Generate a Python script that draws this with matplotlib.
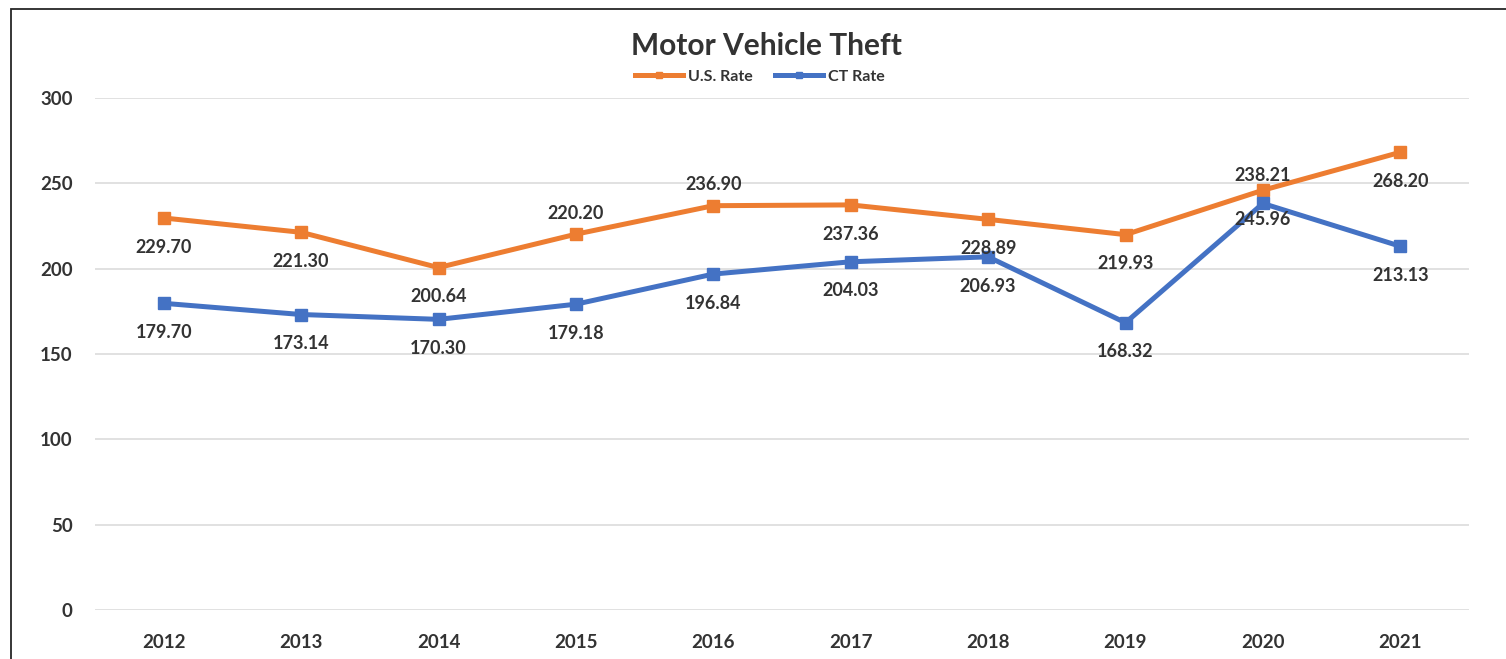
import numpy as np
import matplotlib
matplotlib.use('Agg')
import matplotlib.pyplot as plt
from matplotlib.lines import Line2D
from matplotlib.patches import Rectangle

plt.rcParams['font.family'] = ['Lato', 'DejaVu Sans']
plt.rcParams['font.weight'] = 'bold'

# --- Data ---
years = ['2012', '2013', '2014', '2015', '2016', '2017', '2018', '2019', '2020', '2021']
us_rate = [229.70, 221.30, 200.64, 220.20, 236.90, 237.36, 228.89, 219.93, 245.96, 268.20]
ct_rate = [179.70, 173.14, 170.30, 179.18, 196.84, 204.03, 206.93, 168.32, 238.21, 213.13]
y_ticks = [0, 50, 100, 150, 200, 250, 300]

# label vertical offsets (points), negative = below the marker
us_dy = [-21, -21, -21, 15, 15, -21, -21, -21, -21, -21]
ct_dy = [-21, -21, -21, -21, -21, -21, -21, -21, 20, -21]

ORANGE = '#ED7D31'
BLUE = '#4472C4'
TXT = '#333333'

W, H = 1506, 659
fig = plt.figure(figsize=(W / 100, H / 100), dpi=100)
ax = fig.add_axes([95 / W, 1 - 610 / H, (1469 - 95) / W, (610 - 98) / H])

x = np.arange(len(years))
ax.plot(x, us_rate, color=ORANGE, lw=3.6, marker='s', ms=8.5, zorder=3)
ax.plot(x, ct_rate, color=BLUE, lw=3.6, marker='s', ms=8.5, zorder=3)

for xi, v, dy in zip(x, us_rate, us_dy):
    ax.annotate(f'{v:.2f}', (xi, v), xytext=(0, dy), textcoords='offset points',
                ha='center', va='center', fontsize=13, color=TXT, fontweight='bold')
for xi, v, dy in zip(x, ct_rate, ct_dy):
    ax.annotate(f'{v:.2f}', (xi, v), xytext=(0, dy), textcoords='offset points',
                ha='center', va='center', fontsize=13, color=TXT, fontweight='bold')

ax.set_xlim(-0.5, len(years) - 0.5)
ax.set_ylim(0, 300)
ax.set_xticks(x)
ax.set_xticklabels(years)
ax.set_yticks(y_ticks)
ax.tick_params(axis='both', length=0, labelsize=13.5, labelcolor=TXT)
ax.tick_params(axis='x', pad=17)
ax.tick_params(axis='y', pad=16)
for lab in ax.get_xticklabels() + ax.get_yticklabels():
    lab.set_fontweight('bold')
ax.grid(axis='y', color='#d9d9d9', lw=1.1)
ax.set_axisbelow(True)
for s in ax.spines.values():
    s.set_visible(False)

fig.text(766 / W, 1 - 46 / H, 'Motor Vehicle Theft', ha='center', va='center',
         fontsize=21.5, fontweight='bold', color=TXT)

handles = [Line2D([], [], color=ORANGE, lw=3.6, marker='s', ms=4),
           Line2D([], [], color=BLUE, lw=3.6, marker='s', ms=4)]
fig.legend(handles, ['U.S. Rate', 'CT Rate'], loc='center', ncol=2,
           bbox_to_anchor=(760 / W, 1 - 77 / H), frameon=False,
           handlelength=3.0, handletextpad=0.3, columnspacing=1.4,
           prop={'size': 11.5, 'weight': 'bold'}, labelcolor=TXT)

fig.add_artist(Rectangle((11 / W, -0.1), 1.2, 1.1 - 9 / H, transform=fig.transFigure,
                         fill=False, edgecolor='#262626', lw=1.3, clip_on=False))

fig.savefig('out.png', dpi=100)
